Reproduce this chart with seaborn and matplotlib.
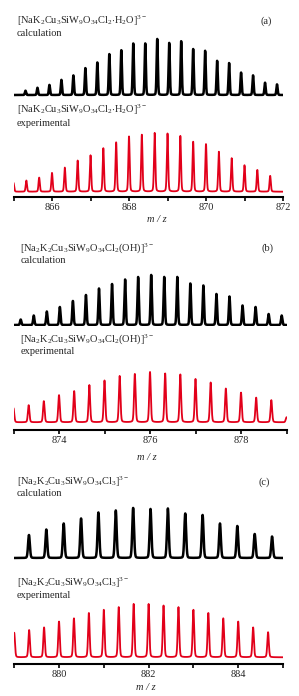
import numpy as np
import pandas as pd
import seaborn as sns
import matplotlib
matplotlib.use('Agg')
from matplotlib import pyplot as plt
from matplotlib.ticker import MultipleLocator

# relative peak heights, one peak every 1/3 m/z (z = 3)
calc_a_start = 865 + 1 / 3
calc_a = [7.7, 13, 18, 27, 35, 48, 58, 73, 80, 92, 92, 100, 93, 96, 82, 79, 61, 57, 40, 35, 22, 19]
exp_a_start = 865.0
exp_a = [15, 19, 24, 32, 41, 53, 62, 74, 84, 94, 97, 100, 99, 95, 85, 81, 68, 57, 45, 37, 27]

calc_b_start = 873.0
calc_b = [11, 19, 27, 36, 48, 60, 73, 82, 91, 96, 100, 96, 96, 83, 79, 62, 57, 39, 36, 22, 19]
exp_b_start = 873.0
exp_b = [28, 34, 42, 54, 62, 74, 83, 92, 96, 100, 97, 95, 86, 79, 67, 59, 49, 44, 10]

calc_c_start = 879 + 1 / 3
calc_c = [46, 57, 69, 79, 91, 95, 100, 98, 99, 89, 86, 69, 64, 48, 43]
exp_c_start = 879.0
exp_c = [46, 51, 56, 67, 73, 83, 89, 94, 100, 100, 97, 94, 89, 83, 73, 67, 56, 47]

formulas = [r'[NaK$_2$Cu$_3$SiW$_9$O$_{34}$Cl$_2$$\cdot$H$_2$O]$^{3-}$',
            r'[Na$_2$K$_2$Cu$_3$SiW$_9$O$_{34}$Cl$_2$(OH)]$^{3-}$',
            r'[Na$_2$K$_2$Cu$_3$SiW$_9$O$_{34}$Cl$_3$]$^{3-}$']
panel_labels = ['(a)', '(b)', '(c)']

sns.set_theme(style='white')
plt.rcParams['font.family'] = ['Liberation Serif', 'DejaVu Serif']
plt.rcParams['mathtext.fontset'] = 'custom'
plt.rcParams['mathtext.rm'] = 'Liberation Serif'
plt.rcParams['mathtext.it'] = 'Liberation Serif:italic'

W, H = 299, 696
fig = plt.figure(figsize=(W / 100, H / 100), dpi=100)
FS = 7.5


def spectrum(start, heights, fwhm, eta, lo, hi):
    # pseudo-Voigt line shape around each isotope peak
    x = np.linspace(lo, hi, 4000)
    y = np.zeros_like(x)
    for k, h in enumerate(heights):
        c = start + k / 3
        d = x - c
        g = np.exp(-4 * np.log(2) * d ** 2 / fwhm ** 2)
        lz = 1 / (1 + 4 * d ** 2 / fwhm ** 2)
        y += h * ((1 - eta) * g + eta * lz)
    return pd.DataFrame({'mz': x, 'intensity': y})


def add_ax(x0, x1, base, top, ymin, ymax):
    scale = (base - top) / 100
    ybot = base - ymin * scale
    ytop = top - (ymax - 100) * scale
    ax = fig.add_axes([x0 / W, 1 - ybot / H, (x1 - x0) / W, (ybot - ytop) / H])
    ax.set_ylim(ymin, ymax)
    return ax


def ftext(x, y, s, **kw):
    fig.text(x / W, 1 - y / H, s, va='center', fontsize=FS, **kw)


# pixel geometry of each panel: calc axes (x0, x1, base, top, xlim) and exp axes
calc_geo = [(13.5, 283, 95, 39, (865.0, 872.5)),
            (13.5, 286.5, 325, 275, (872.816, 879.79)),
            (14.2, 283, 558, 508, (879.05, 884.21))]
exp_geo = [(13.5, 283, 191.7, 133, 197, (865, 872)),
           (13.5, 286.5, 422.3, 372, 430, (873, 879)),
           (14.2, 283, 657.3, 604, 664, (879, 885))]
calc_data = [(calc_a_start, calc_a), (calc_b_start, calc_b), (calc_c_start, calc_c)]
exp_data = [(exp_a_start, exp_a), (exp_b_start, exp_b), (exp_c_start, exp_c)]

text_y = [(21, 34, 110, 123, 209, 219), (248, 260, 339, 351, 443, 457), (482, 494, 583, 596, 676, 688)]
text_x = [17, 20.5, 17]
lab_x = [266, 268, 264]
mz_x = [157, 147, 146]

for i in range(3):
    x0, x1, base, top, xl = calc_geo[i]
    ax = add_ax(x0, x1, base, top, -3, 104)
    df = spectrum(calc_data[i][0], calc_data[i][1], 0.04, 0.12, xl[0], xl[1])
    sns.lineplot(data=df, x='mz', y='intensity', ax=ax, color='black', lw=1.8, estimator=None)
    ax.set_xlim(xl)
    ax.axis('off')

    x0, x1, base, top, axis_y, xl = exp_geo[i]
    scale = (base - top) / 100
    ymin = -(axis_y - base) / scale
    ax = add_ax(x0, x1, base, top, ymin, 104)
    df = spectrum(exp_data[i][0], exp_data[i][1], 0.04, 0.22, xl[0], xl[1])
    sns.lineplot(data=df, x='mz', y='intensity', ax=ax, color='#e2001a', lw=1.3, estimator=None)
    ax.set_xlim(xl)
    for s in ['top', 'left', 'right']:
        ax.spines[s].set_visible(False)
    ax.spines['bottom'].set_linewidth(1.5)
    ax.spines['bottom'].set_color('black')
    ax.set_yticks([])
    ax.xaxis.set_major_locator(MultipleLocator(2))
    ax.xaxis.set_minor_locator(MultipleLocator(1))
    ax.tick_params(axis='x', which='both', direction='out', length=3, width=1.2, color='black',
                   bottom=True, labelsize=FS, pad=1.5)
    ax.set_xlabel('')
    ax.set_ylabel('')

    ty = text_y[i]
    ftext(text_x[i], ty[0], formulas[i])
    ftext(text_x[i], ty[1], 'calculation')
    ftext(text_x[i], ty[2], formulas[i])
    ftext(text_x[i], ty[3], 'experimental')
    ftext(lab_x[i], ty[0], panel_labels[i], ha='center')
    ftext(mz_x[i], ty[5], 'm / z', ha='center', style='italic')

fig.savefig('out.png', dpi=100)
